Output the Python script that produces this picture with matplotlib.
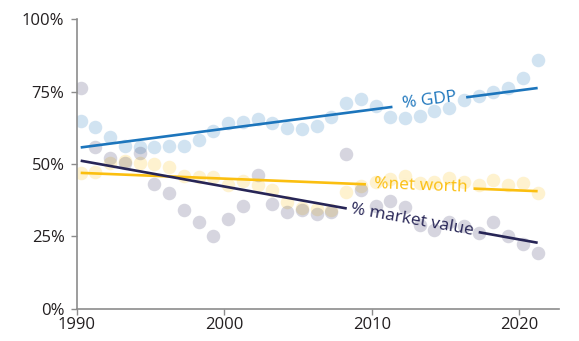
import numpy as np
import matplotlib
matplotlib.use("Agg")
import matplotlib.pyplot as plt

plt.rcParams['font.family'] = ['Open Sans', 'DejaVu Sans']

years = np.arange(1990, 2022) + 0.25

gdp = [64.9, 62.9, 59.4, 56.2, 56.0, 55.9, 56.3, 56.1, 58.2, 61.5, 64.0, 64.5,
       65.4, 64.0, 62.5, 62.0, 63.2, 66.1, 70.9, 72.3, 70.0, 66.3, 65.9, 66.6,
       68.3, 69.5, 72.1, 73.4, 74.7, 76.4, 79.8, 85.8]
net_worth = [47.0, 47.1, 50.2, 51.1, 50.5, 50.0, 49.1, 45.9, 45.6, 45.6, 42.8, 44.1,
             42.8, 41.1, 36.8, 34.9, 34.5, 34.1, 40.5, 42.4, 43.9, 44.7, 45.9, 43.6,
             43.9, 45.3, 43.9, 42.8, 44.5, 42.9, 43.6, 40.1]
market = [76.3, 55.8, 52.0, 50.2, 53.7, 43.0, 40.1, 34.2, 29.9, 25.3, 30.9, 35.6,
          46.2, 36.3, 33.6, 34.0, 32.8, 33.6, 53.4, 41.0, 35.5, 37.2, 35.3, 29.0,
          27.3, 30.1, 28.6, 26.1, 30.0, 25.2, 22.3, 19.2]

series = [
    # name, values, colour, label, label x, gap in trend line, label lift
    ("gdp", gdp, "#1c75bc", "% GDP", 2013.9, (2011.4, 2016.4), 0.5),
    ("nw", net_worth, "#fbbf10", "%net worth", 2013.3, (2009.6, 2016.9), 0.3),
    ("mv", market, "#272556", "% market value", 2012.7, (2008.3, 2017.25), 0.0),
]

fig = plt.figure(figsize=(5.79, 3.41), dpi=100)
ax = fig.add_axes([0.133, 0.094, 0.8325, 0.85])
ax.set_xlim(1990, 2022.7)
ax.set_ylim(0, 100)

for name, vals, col, lab, lx, gap, dy in series:
    a = 0.19 if name == "mv" else 0.2
    ax.scatter(years, vals, s=95, color=col, alpha=a, linewidths=0, zorder=2)

for name, vals, col, lab, lx, gap, dy in series:
    m, b = np.polyfit(years, vals, 1)
    x0, x1 = years[0], years[-1]
    ax.plot([x0, gap[0]], [m * x0 + b, m * gap[0] + b], color=col, lw=1.9,
            solid_capstyle='butt', zorder=3)
    ax.plot([gap[1], x1], [m * gap[1] + b, m * x1 + b], color=col, lw=1.9,
            solid_capstyle='butt', zorder=3)
    p0 = ax.transData.transform((x0, m * x0 + b))
    p1 = ax.transData.transform((x1, m * x1 + b))
    ang = np.degrees(np.arctan2(p1[1] - p0[1], p1[0] - p0[0]))
    ax.text(lx, m * lx + b + dy, lab, color=col, fontsize=12.5, rotation=ang,
            rotation_mode='anchor', ha='center', va='center', zorder=4)

ax.set_yticks([0, 25, 50, 75, 100])
ax.set_yticklabels(["0%", "25%", "50%", "75%", "100%"])
ax.set_xticks([1990, 2000, 2010, 2020])

for s in ['top', 'right']:
    ax.spines[s].set_visible(False)
for s in ['left', 'bottom']:
    ax.spines[s].set_color('#8c8c8c')
    ax.spines[s].set_linewidth(1.2)
ax.tick_params(colors='#8c8c8c', labelcolor='#231f20', labelsize=12, length=4,
               width=1)
ax.tick_params(axis='y', pad=5)
ax.tick_params(axis='x', pad=2)

fig.savefig("out.png", dpi=100)
